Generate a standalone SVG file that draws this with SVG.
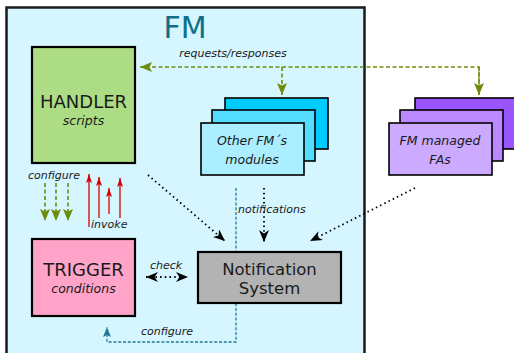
<svg xmlns="http://www.w3.org/2000/svg" width="514" height="353" viewBox="0 0 514 353">
<style>
text{font-family:"DejaVu Sans","Liberation Sans",sans-serif;fill:#1a1a1a}
.it{font-style:italic;font-size:11px}
.box{stroke:#000;stroke-width:2.2}
.stk{stroke:#000;stroke-width:1.6}
.green{fill:none;stroke:#6d8c0c;stroke-width:1.6;stroke-dasharray:4 2.5}
.red{fill:none;stroke:#d40000;stroke-width:1.3}
.dot{fill:none;stroke:#000;stroke-width:1.8;stroke-dasharray:1.5 3.2}
.teal{fill:none;stroke:#1f7a96;stroke-width:1.3;stroke-dasharray:3 1.8}
</style>
<defs>
<marker id="mg" viewBox="0 0 12 10" refX="12" refY="5" markerWidth="12" markerHeight="10" markerUnits="userSpaceOnUse" orient="auto"><path d="M0,0 L12,5 L0,10 L2.5,5 Z" fill="#6d8c0c"/></marker>
<marker id="mr" viewBox="0 0 9 6" refX="9" refY="3" markerWidth="9" markerHeight="6" markerUnits="userSpaceOnUse" orient="auto"><path d="M0,0 L9,3 L0,6 L2,3 Z" fill="#d40000"/></marker>
<marker id="mb" viewBox="0 0 12 10" refX="12" refY="5" markerWidth="12" markerHeight="10" markerUnits="userSpaceOnUse" orient="auto-start-reverse"><path d="M0,0 L12,5 L0,10 L3.5,5 Z" fill="#000"/></marker>
<marker id="mt" viewBox="0 0 10 8" refX="10" refY="4" markerWidth="10" markerHeight="8" markerUnits="userSpaceOnUse" orient="auto"><path d="M0,0 L10,4 L0,8 L2,4 Z" fill="#1f7a96"/></marker>
</defs>

<g id="fm">
<rect x="6.5" y="7.5" width="358" height="360" fill="#d5f5ff" stroke="#1a1a1a" stroke-width="2.5"/>
<text x="185" y="38" font-size="30" text-anchor="middle" style="fill:#0f6f88">FM</text>
</g>

<g id="connectors">
<path class="green" d="M479,95 V67 H140" marker-end="url(#mg)"/>
<path class="green" d="M282,67 V95" marker-end="url(#mg)"/>
<path class="green" d="M479,67 V95" marker-end="url(#mg)"/>
<text class="it" x="233" y="57" text-anchor="middle">requests/responses</text>

<path class="green" d="M45,183 V221" marker-end="url(#mg)"/>
<path class="green" d="M56,183 V221" marker-end="url(#mg)"/>
<path class="green" d="M68,183 V221" marker-end="url(#mg)"/>
<text class="it" x="54" y="179" text-anchor="middle">configure</text>

<path class="red" d="M89,227 V174" marker-end="url(#mr)"/>
<path class="red" d="M99,218 V177" marker-end="url(#mr)"/>
<path class="red" d="M109,214 V188" marker-end="url(#mr)"/>
<path class="red" d="M120,218 V178" marker-end="url(#mr)"/>
<text class="it" x="91" y="228">invoke</text>

<path class="dot" d="M148,175 L225,241" marker-end="url(#mb)"/>
<path class="dot" d="M264,188 V242" marker-end="url(#mb)"/>
<path class="dot" d="M415,188 L310,241" marker-end="url(#mb)"/>
<text class="it" x="238" y="213">notifications</text>

<path class="dot" d="M146,277 H188" marker-start="url(#mb)" marker-end="url(#mb)"/>
<text class="it" x="166" y="269" text-anchor="middle">check</text>

<path class="teal" d="M236,188 V342 H107 V327" marker-end="url(#mt)"/>
<text class="it" x="167" y="335" text-anchor="middle">configure</text>
</g>

<g id="handler">
<rect class="box" x="32" y="47" width="103" height="116" fill="#acdc84"/>
<text x="83.5" y="108" font-size="18" text-anchor="middle">HANDLER</text>
<text x="83.5" y="125" font-size="12.5" font-style="italic" text-anchor="middle">scripts</text>
</g>

<g id="other-modules">
<rect class="stk" x="225" y="98" width="103" height="51" fill="#00ccff"/>
<rect class="stk" x="212" y="110" width="103" height="51" fill="#55ddff"/>
<rect class="stk" x="201" y="123" width="103" height="52" fill="#aaeeff"/>
<text x="252" y="145" font-size="12.5" font-style="italic" text-anchor="middle">Other FM´s</text>
<text x="252" y="164" font-size="12.5" font-style="italic" text-anchor="middle">modules</text>
</g>

<g id="managed-fas">
<rect class="stk" x="415" y="98" width="101" height="51" fill="#9955ff"/>
<rect class="stk" x="400" y="110" width="103" height="51" fill="#bb88ff"/>
<rect class="stk" x="389" y="123" width="103" height="52" fill="#ccaaff"/>
<text x="440" y="145" font-size="12.5" font-style="italic" text-anchor="middle">FM managed</text>
<text x="440" y="164" font-size="12.5" font-style="italic" text-anchor="middle">FAs</text>
</g>

<g id="trigger">
<rect class="box" x="32" y="239" width="103" height="77" fill="#ffa4c8"/>
<text x="83.5" y="276" font-size="18" text-anchor="middle">TRIGGER</text>
<text x="83.5" y="293" font-size="12.5" font-style="italic" text-anchor="middle">conditions</text>
</g>

<g id="notification-system">
<rect class="box" x="198" y="252" width="143" height="51" fill="#b3b3b3"/>
<text x="269.5" y="274.5" font-size="16.5" text-anchor="middle">Notification</text>
<text x="269.5" y="293.5" font-size="16.5" text-anchor="middle">System</text>
</g>
</svg>
